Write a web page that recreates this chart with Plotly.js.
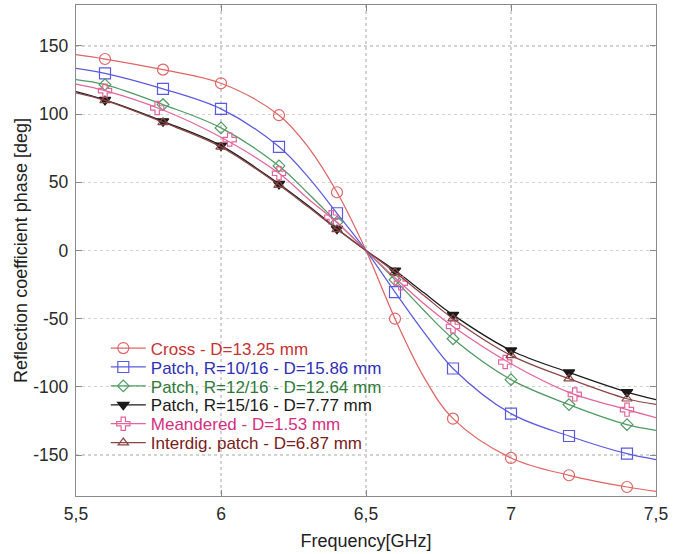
<!DOCTYPE html>
<html>
<head>
<meta charset="utf-8">
<script src="https://cdn.plot.ly/plotly-3.0.1.min.js"></script>
<style>
  html, body { margin: 0; padding: 0; background: #fff; }
  #chart { width: 688px; height: 554px; }
</style>
</head>
<body>
<div id="chart"></div>
<script>
// ---- data ----
const freq = [5.5, 5.6, 5.8, 6.0, 6.2, 6.3, 6.4, 6.5, 6.6, 6.7, 6.8, 7.0, 7.2, 7.4, 7.5];
const crossLine   = [143.6, 140.4, 132.6, 122.6, 99.2, 76, 42.7, 0, -50, -93, -123.3, -152.1, -164.8, -173.4, -176.6];
const patch10Line = [133.6, 129.9, 118.5, 103.8, 76, 54, 27.3, 0, -30.5, -60, -86.5, -119.6, -136, -149, -153.3];
const patch12Line = [125.3, 121.6, 107, 89.9, 62, 42, 20.8, 0, -21.5, -44, -64.7, -94.7, -113, -127.7, -131.9];
const patch15Line = [116.5, 110.4, 94.7, 76.9, 48.8, 33, 15.9, 0, -14.7, -31, -47.2, -73.3, -89.4, -103.8, -109.4];
const meanderLine = [122, 117.2, 103, 83, 56.6, 38, 20.5, 0, -20, -39, -55.7, -83, -104, -116.7, -122.6];
const interdigLine= [115.5, 110, 94, 76, 48, 32, 15.5, 0, -16, -33, -50, -76.9, -94, -108.7, -112.8];

const markerFreq = [5.6, 5.8, 6.0, 6.2, 6.4, 6.6, 6.8, 7.0, 7.2, 7.4];
const crossMk    = [140.4, 132.6, 122.6, 99.2, 42.7, -50, -123.3, -152.1, -164.8, -173.4];
const patch10Mk  = [129.9, 118.5, 103.8, 76, 27.3, -30.5, -86.5, -119.6, -136, -149];
const patch12Mk  = [121.6, 107, 89.9, 62, 20.8, -21.5, -64.7, -94.7, -113, -127.7];
const patch15Mk  = [110.4, 94.7, 76.9, 48.8, 15.9, -14.7, -47.2, -73.3, -89.4, -103.8];
const interdigMk = [110, 94, 76, 48, 15.5, -16, -50, -76.9, -94, -108.7];
const meanderMkFreq = [5.6, 5.78, 6.03, 6.2, 6.38, 6.62, 6.8, 6.98, 7.22, 7.4];
const meanderMk  = [117.2, 104.5, 81.3, 56.6, 24.4, -24, -55.7, -81.8, -105.5, -116.7];

const seriesNames = [
  "Cross - D=13.25 mm",
  "Patch, R=10/16 - D=15.86 mm",
  "Patch, R=12/16 - D=12.64 mm",
  "Patch, R=15/16 - D=7.77 mm",
  "Meandered - D=1.53 mm",
  "Interdig. patch - D=6.87 mm"
];
const xTickVals = [5.5, 6, 6.5, 7, 7.5];
const xTickText = ["5,5", "6", "6,5", "7", "7,5"];
const yTickVals = [-150, -100, -50, 0, 50, 100, 150];
const yTickText = ["-150", "-100", "-50", "0", "50", "100", "150"];

// ---- styles ----
const series = [
  {line: crossLine,   mx: markerFreq,    my: crossMk,    color: "#e06464", text: "#c83232", symbol: "circle-open",      size: 11},
  {line: patch10Line, mx: markerFreq,    my: patch10Mk,  color: "#5a5ae0", text: "#3030b4", symbol: "square-open",      size: 11},
  {line: patch12Line, mx: markerFreq,    my: patch12Mk,  color: "#4f9a60", text: "#2f7a3a", symbol: "diamond-open",     size: 9},
  {line: patch15Line, mx: markerFreq,    my: patch15Mk,  color: "#1a1a1a", text: "#1a1a1a", symbol: "triangle-down",    size: 10},
  {line: meanderLine, mx: meanderMkFreq, my: meanderMk,  color: "#e4649c", text: "#d42f7f", symbol: "cross-open",       size: 11},
  {line: interdigLine,mx: markerFreq,    my: interdigMk, color: "#8a4646", text: "#7a2020", symbol: "triangle-up-open", size: 9}
];
const LW = 1.25;
const FONT = "Liberation Sans, Arial, sans-serif";

const traces = [];
series.forEach((s) => {
  traces.push({x: freq, y: s.line, mode: "lines", line: {color: s.color, width: LW, shape: "spline", smoothing: 1},
               showlegend: false, hoverinfo: "skip"});
  traces.push({x: s.mx, y: s.my, mode: "markers", showlegend: false,
               marker: {symbol: s.symbol, size: s.size, color: s.color, line: {color: s.color, width: 1.2}}});
});
series.forEach((s, i) => {
  traces.push({x: [null], y: [null], mode: "lines+markers",
               name: "<span style='color:" + s.text + "'>" + seriesNames[i] + "</span>",
               line: {color: s.color, width: LW},
               marker: {symbol: s.symbol, size: s.size, color: s.color, line: {color: s.color, width: 1.2}}});
});

const axisCommon = {
  showline: true, linecolor: "#8a8a8a", linewidth: 1.3, mirror: "ticks",
  ticks: "inside", ticklen: 6, tickcolor: "#8a8a8a", tickwidth: 1,
  showgrid: true, gridcolor: "#d2d2d2", griddash: "dot", gridwidth: 1.2,
  zeroline: false,
  tickfont: {family: FONT, size: 17.5, color: "#2a2a2a"}
};

const layout = {
  width: 688, height: 554,
  margin: {l: 76, r: 32, t: 5, b: 58},
  paper_bgcolor: "#fff", plot_bgcolor: "#fff",
  showlegend: true,
  legend: {x: 0.06, y: 0.337, xanchor: "left", yanchor: "top", bgcolor: "rgba(0,0,0,0)",
           font: {family: FONT, size: 17}, tracegroupgap: 0},
  xaxis: Object.assign({}, axisCommon, {
    range: [5.5, 7.5], tickmode: "array", tickvals: xTickVals, ticktext: xTickText,
    ticklabelstandoff: 2,
    title: {text: "Frequency[GHz]", font: {family: FONT, size: 18, color: "#222"}, standoff: 11}
  }),
  yaxis: Object.assign({}, axisCommon, {
    range: [-180, 180], tickmode: "array", tickvals: yTickVals, ticktext: yTickText,
    ticklabelstandoff: 3,
    title: {text: "Reflection coefficient phase [deg]", font: {family: FONT, size: 18, color: "#222"}, standoff: 1}
  })
};

Plotly.newPlot("chart", traces, layout, {staticPlot: true, displayModeBar: false}).then(function (gd) {
  // tighten the legend rows and lengthen the sample lines to match the reference
  const items = gd.querySelectorAll(".legend .traces");
  if (!items.length) return;
  const parse = el => {
    const m = /translate\(\s*([-\d.e]+)[ ,]+([-\d.e]+)\s*\)/.exec(el.getAttribute("transform") || "");
    return m ? [parseFloat(m[1]), parseFloat(m[2])] : [0, 0];
  };
  const first = parse(items[0]);
  items.forEach((el, i) => {
    const p = parse(el);
    el.setAttribute("transform", "translate(" + p[0] + "," + (first[1] + i * 18.9) + ")");
    el.querySelectorAll(".legendlines path").forEach(path => path.setAttribute("d", "M-20,0h55"));
    el.querySelectorAll(".legendpoints").forEach(g => g.setAttribute("transform", "translate(-7.5,0)"));
  });
});
</script>
</body>
</html>
